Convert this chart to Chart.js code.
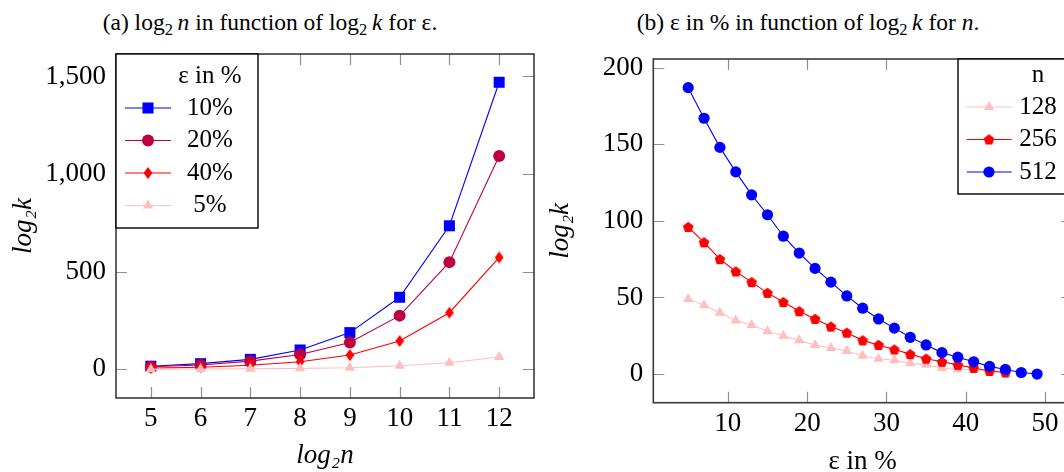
<!DOCTYPE html>
<html><head><meta charset="utf-8">
<script src="https://cdn.jsdelivr.net/npm/chart.js@4.4.1/dist/chart.umd.min.js"></script>
<style>
html,body{margin:0;padding:0;background:#fff;overflow:hidden;width:1064px;height:472px;}
#wrap{position:relative;width:1064px;height:472px;overflow:hidden;}
canvas{position:absolute;top:0;}
.ttl{position:absolute;top:11px;font-family:"Liberation Serif",serif;font-size:23.5px;white-space:nowrap;transform:translateX(-50%);line-height:1;color:#000;}
.ttl sub{font-size:70%;vertical-align:-0.3em;line-height:0;}
</style></head><body>
<div id="wrap">
<div class="ttl" style="left:270px">(a) log<sub>2</sub>&#8201;<i>n</i> in function of log<sub>2</sub>&#8201;<i>k</i> for ε.</div>
<div class="ttl" style="left:808px">(b) ε in % in function of log<sub>2</sub>&#8201;<i>k</i> for <i>n</i>.</div>
<canvas id="c1" width="545" height="472" style="left:0"></canvas>
<canvas id="c2" width="545" height="472" style="left:545px"></canvas>
</div>
<script>
// ---------- data: chart (a) ----------
const log2n = [5, 6, 7, 8, 9, 10, 11, 12];
const eps10 = [16, 29, 51, 99, 188, 369, 735, 1470];
const eps20 = [13, 22, 42, 76, 137, 275, 549, 1092];
const eps40 = [6, 11, 21, 39, 73, 145, 290, 573];
const eps5  = [1, 2, 3, 5, 8, 18, 34, 63];
const xTicksA = [5, 6, 7, 8, 9, 10, 11, 12];
const yTicksA = [0, 500, 1000, 1500];
const legendTitleA = 'ε in %';
const seriesNamesA = ['10%', '20%', '40%', '5%'];

// ---------- data: chart (b) ----------
const epsPct = [5, 7, 9, 11, 13, 15, 17, 19, 21, 23, 25, 27, 29, 31, 33, 35, 37, 39, 41, 43, 45, 47, 49];
const n512 = [187, 167, 148, 132, 117, 104, 90, 79, 69, 60, 51, 43, 36, 30, 24, 19, 14, 11, 8, 5, 3, 1, 0];
const n256 = [96, 86, 75, 67, 60, 53, 47, 41, 36, 31, 27, 22, 19, 16, 13, 10, 8, 6, 4, 2, 1];
const n128 = [49, 45, 40, 35, 32, 28, 25, 22, 19, 17, 15, 12, 10, 9, 7, 6, 4, 3, 3, 2, 1];
const xTicksB = [10, 20, 30, 40, 50];
const yTicksB = [0, 50, 100, 150, 200];
const legendTitleB = 'n';
const seriesNamesB = ['128', '256', '512'];

// ---------- styles ----------
const BLUE = '#0000ff', PURPLE = '#bf0040', RED = '#ff0000', PINK = '#ffbfbf';
const FONT = '"Liberation Serif", "Times New Roman", serif';

function mk(w, h, draw) { const c = document.createElement('canvas'); c.width = w; c.height = h; draw(c.getContext('2d')); return c; }
const diamond = mk(10, 14, g => { g.fillStyle = RED; g.beginPath(); g.moveTo(5, 1); g.lineTo(9.4, 7); g.lineTo(5, 13); g.lineTo(0.6, 7); g.closePath(); g.fill(); });
const pentagon = mk(12, 12, g => {
  g.fillStyle = RED; g.beginPath();
  for (let k = 0; k < 5; k++) { const a = -Math.PI / 2 + k * 2 * Math.PI / 5; const px = 6 + 5.6 * Math.cos(a), py = 6.4 + 5.6 * Math.sin(a); k ? g.lineTo(px, py) : g.moveTo(px, py); }
  g.closePath(); g.fill();
});

function pts(xs, ys) { return ys.map((v, i) => ({ x: xs[i], y: v })); }
function ds(label, data, color, style, r, order) {
  return { label, data, borderColor: color, backgroundColor: color, borderWidth: 1.1,
    pointStyle: style, pointRadius: r, pointHoverRadius: r, pointBackgroundColor: color,
    pointBorderColor: color, pointBorderWidth: 0, tension: 0, order, clip: 8 };
}

const frame = {
  id: 'frame',
  beforeDatasetsDraw(chart) {
    const { ctx, chartArea: a, scales: { x, y } } = chart;
    ctx.save();
    ctx.strokeStyle = '#8f8f8f'; ctx.lineWidth = 1.2; ctx.beginPath();
    const L = 11;
    x.ticks.forEach(t => { const p = Math.round(x.getPixelForValue(t.value)) + 0.5;
      ctx.moveTo(p, a.bottom); ctx.lineTo(p, a.bottom - L); ctx.moveTo(p, a.top); ctx.lineTo(p, a.top + L); });
    y.ticks.forEach(t => { const p = Math.round(y.getPixelForValue(t.value)) + 0.5;
      ctx.moveTo(a.left, p); ctx.lineTo(a.left + L, p); ctx.moveTo(a.right, p); ctx.lineTo(a.right - L, p); });
    ctx.stroke();
    ctx.strokeStyle = '#3a3a3a'; ctx.lineWidth = 1.6;
    ctx.strokeRect(a.left, a.top, a.right - a.left, a.bottom - a.top);
    ctx.restore();
  }
};

const pgfLegend = {
  id: 'pgfLegend',
  afterDatasetsDraw(chart, args, o) {
    const { ctx, chartArea: a } = chart;
    const bx = o.anchor === 'left' ? a.left : a.right - o.offsetRight;
    const by = a.top;
    ctx.save();
    ctx.fillStyle = '#fff'; ctx.fillRect(bx, by, o.w, o.h);
    ctx.strokeStyle = '#000'; ctx.lineWidth = 1.4; ctx.strokeRect(bx, by, o.w, o.h);
    ctx.font = o.fontSize + 'px ' + FONT; ctx.fillStyle = '#000';
    ctx.textAlign = 'center'; ctx.textBaseline = 'middle';
    ctx.fillText(o.title, bx + o.textX, by + o.titleY);
    chart.data.datasets.forEach((d, i) => {
      const yy = by + o.firstY + i * o.step;
      ctx.strokeStyle = d.borderColor; ctx.lineWidth = 1.1;
      ctx.beginPath(); ctx.moveTo(bx + o.lineX1, yy); ctx.lineTo(bx + o.lineX2, yy); ctx.stroke();
      ctx.fillStyle = d.pointBackgroundColor;
      Chart.helpers.drawPoint(ctx, { pointStyle: d.pointStyle, radius: d.pointRadius, rotation: 0, borderWidth: 0 }, bx + o.markX, yy);
      ctx.fillStyle = '#000';
      ctx.fillText(d.label, bx + o.textX, yy);
    });
    ctx.restore();
  }
};

const tickFont = { family: FONT, size: 27 };
const italicFont = { family: FONT, size: 27, style: 'italic' };
const uprightFont = { family: FONT, size: 27 };

function baseScales(xmin, xmax, ymin, ymax, xt, yt, yw, xh, xtitle, ytitle, fmt, xtPad, ytPad, xtFont) {
  return {
    x: { type: 'linear', min: xmin, max: xmax,
      afterBuildTicks: s => { s.ticks = xt.map(v => ({ value: v })); },
      afterFit: s => { s.height = xh; },
      grid: { display: false, drawTicks: false }, border: { display: false },
      ticks: { font: tickFont, color: '#000', padding: 5, maxRotation: 0, autoSkip: false },
      title: { display: true, text: xtitle, font: xtFont, color: '#000', padding: xtPad } },
    y: { type: 'linear', min: ymin, max: ymax,
      afterBuildTicks: s => { s.ticks = yt.map(v => ({ value: v })); },
      afterFit: s => { s.width = yw; },
      grid: { display: false, drawTicks: false }, border: { display: false },
      ticks: { font: tickFont, color: '#000', padding: 10, autoSkip: false, callback: fmt },
      title: { display: true, text: ytitle, font: italicFont, color: '#000', padding: ytPad } }
  };
}

new Chart(document.getElementById('c1'), {
  type: 'line',
  data: { datasets: [
    ds(seriesNamesA[0], pts(log2n, eps10), BLUE, 'rect', 7.8, 4),
    ds(seriesNamesA[1], pts(log2n, eps20), PURPLE, 'circle', 6, 3),
    ds(seriesNamesA[2], pts(log2n, eps40), RED, diamond, 6, 2),
    ds(seriesNamesA[3], pts(log2n, eps5), PINK, 'triangle', 6, 1)
  ] },
  options: {
    responsive: false, animation: false, events: [],
    layout: { padding: { top: 54, right: 11, left: 0, bottom: 0 } },
    scales: baseScales(4.3, 12.7, -146.8, 1614.8, xTicksA, yTicksA, 116, 74, 'log₂n', 'log₂k',
      v => v.toLocaleString('en-US'), { top: 0, bottom: 0 }, { top: 8, bottom: 0 }, italicFont),
    plugins: { legend: { display: false }, tooltip: { enabled: false },
      pgfLegend: { anchor: 'left', w: 142, h: 174, title: legendTitleA, fontSize: 25, textX: 94, titleY: 22,
        firstY: 54, step: 32.5, lineX1: 9, lineX2: 55, markX: 32 } }
  },
  plugins: [frame, pgfLegend]
});

new Chart(document.getElementById('c2'), {
  type: 'line',
  data: { datasets: [
    ds(seriesNamesB[0], pts(epsPct, n128), PINK, 'triangle', 6, 3),
    ds(seriesNamesB[1], pts(epsPct, n256), RED, pentagon, 6, 2),
    ds(seriesNamesB[2], pts(epsPct, n512), BLUE, 'circle', 5.6, 1)
  ] },
  options: {
    responsive: false, animation: false, events: [],
    layout: { padding: { top: 59, right: 18, left: 0, bottom: 0 } },
    scales: baseScales(0.6, 53.4, -18.7, 205.7, xTicksB, yTicksB, 108.3, 69.3, 'ε in %', 'log₂k',
      v => String(v), { top: 0, bottom: -6 }, { top: 0, bottom: 0 }, uprightFont),
    plugins: { legend: { display: false }, tooltip: { enabled: false },
      pgfLegend: { anchor: 'right', offsetRight: 114, w: 140, h: 135, title: legendTitleB, fontSize: 25, textX: 80, titleY: 16,
        firstY: 48, step: 32.5, lineX1: 8.7, lineX2: 53.7, markX: 31 } }
  },
  plugins: [frame, pgfLegend]
});
</script>
</body></html>
